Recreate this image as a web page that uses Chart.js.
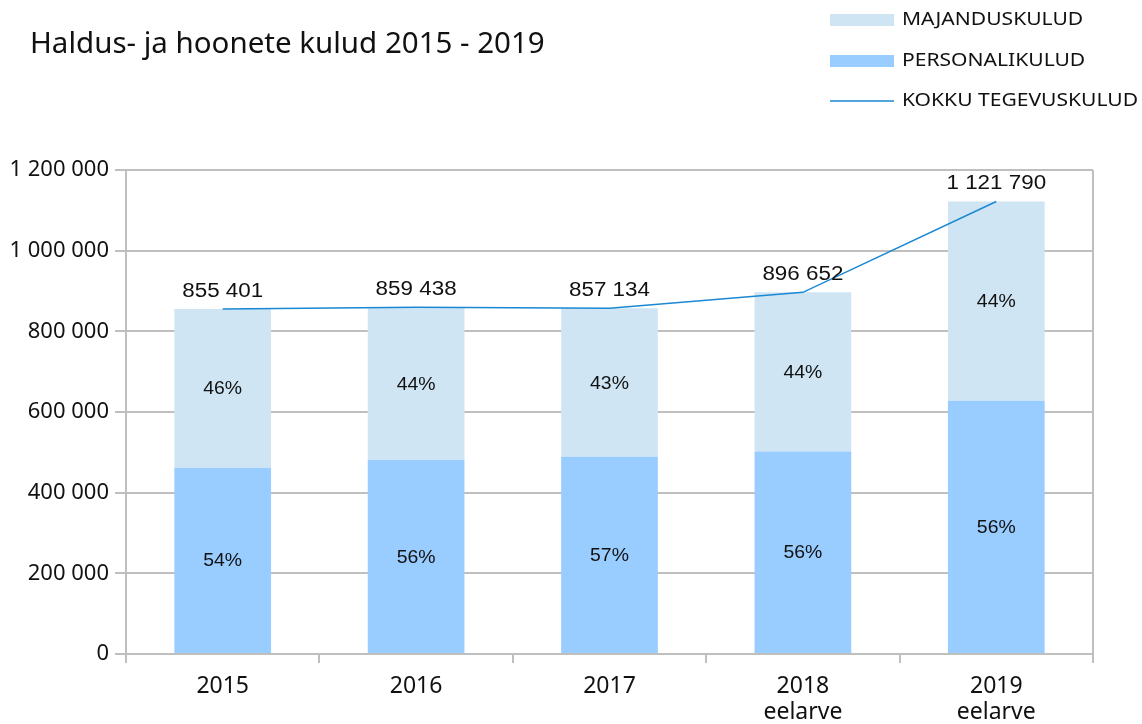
<!DOCTYPE html>
<html>
<head>
<meta charset="utf-8">
<script src="https://cdn.jsdelivr.net/npm/chart.js@4.4.1/dist/chart.umd.min.js"></script>
<style>
  html, body { margin: 0; padding: 0; background: #fff; }
  #wrap { width: 1142px; height: 724px; }
</style>
</head>
<body>
<div id="wrap"><canvas id="chart" width="1142" height="724"></canvas></div>
<script>
// Chart data
const years = ["2015", "2016", "2017", ["2018", "eelarve"], ["2019", "eelarve"]];
const personalCosts = [462000, 481000, 489000, 502000, 628000];
const economicCosts = [393401, 378438, 368134, 394652, 493790];
const totalCosts = [855401, 859438, 857134, 896652, 1121790];
const personalShare = ["54%", "56%", "57%", "56%", "56%"];
const economicShare = ["46%", "44%", "43%", "44%", "44%"];

const titleText = "Haldus- ja hoonete kulud 2015 - 2019";

// Colours
const lightBlue = "#cfe5f4";
const midBlue = "#99ccff";
const lineBlue = "#1a88d2";
const gridGray = "#bfbfbf";

const uiFont = "'Noto Sans', 'Open Sans', sans-serif";
const labelFont = "'Liberation Sans', Arial, sans-serif";

function spaced(v) {
  return String(Math.round(v)).replace(/\B(?=(\d{3})+(?!\d))/g, " ");
}

// text drawn a little wider than the font, like the source image
function wideText(ctx, text, x, y, sx) {
  ctx.save();
  ctx.translate(x, y);
  ctx.scale(sx, 1);
  ctx.fillText(text, 0, 0);
  ctx.restore();
}

// Title, legend, plot frame and value labels
const decorPlugin = {
  id: "decor",
  afterDraw(chart) {
    const ctx = chart.ctx;
    const area = chart.chartArea;
    ctx.save();

    // right border of the plot frame
    ctx.strokeStyle = gridGray;
    ctx.lineWidth = 2;
    ctx.beginPath();
    ctx.moveTo(area.right, area.top);
    ctx.lineTo(area.right, area.bottom);
    ctx.stroke();

    // title
    ctx.fillStyle = "#111";
    ctx.font = "29.5px " + uiFont;
    ctx.textAlign = "left";
    ctx.textBaseline = "middle";
    ctx.fillText(titleText, 30, 45);

    // legend (top to bottom: economic, personal, total)
    const items = [
      { ds: 1, y: 20 },
      { ds: 0, y: 61 },
      { ds: 2, y: 101 },
    ];
    ctx.font = "18px " + uiFont;
    items.forEach((it) => {
      const ds = chart.data.datasets[it.ds];
      if (ds.type === "line") {
        ctx.strokeStyle = ds.borderColor;
        ctx.lineWidth = 1.5;
        ctx.beginPath();
        ctx.moveTo(830, it.y);
        ctx.lineTo(894, it.y);
        ctx.stroke();
      } else {
        ctx.fillStyle = ds.backgroundColor;
        ctx.fillRect(830, it.y - 6, 64, 12);
      }
      ctx.fillStyle = "#111";
      wideText(ctx, ds.label, 902, it.y, 1.17);
    });

    // percentage labels in bars
    ctx.textAlign = "center";
    ctx.font = "18.5px " + labelFont;
    ctx.fillStyle = "#111";
    [[0, personalShare], [1, economicShare]].forEach(([idx, texts]) => {
      const meta = chart.getDatasetMeta(idx);
      meta.data.forEach((el, i) => {
        wideText(ctx, texts[i], el.x, (el.y + el.base) / 2 + 1, 1.05);
      });
    });

    // total labels above line
    ctx.font = "20px " + labelFont;
    const lineMeta = chart.getDatasetMeta(2);
    lineMeta.data.forEach((pt, i) => {
      wideText(ctx, spaced(totalCosts[i]), pt.x, pt.y - 18, 1.12);
    });

    ctx.restore();
  },
};

new Chart(document.getElementById("chart"), {
  data: {
    labels: years,
    datasets: [
      {
        type: "bar",
        label: "PERSONALIKULUD",
        data: personalCosts,
        backgroundColor: midBlue,
        stack: "bars",
        order: 2,
        barPercentage: 0.5,
        categoryPercentage: 1,
      },
      {
        type: "bar",
        label: "MAJANDUSKULUD",
        data: economicCosts,
        backgroundColor: lightBlue,
        stack: "bars",
        order: 2,
        barPercentage: 0.5,
        categoryPercentage: 1,
      },
      {
        type: "line",
        label: "KOKKU TEGEVUSKULUD",
        data: totalCosts,
        borderColor: lineBlue,
        borderWidth: 1.5,
        pointRadius: 0,
        stack: "total",
        order: 1,
        tension: 0,
      },
    ],
  },
  options: {
    responsive: false,
    animation: false,
    devicePixelRatio: 1,
    layout: { padding: { top: 170, right: 49, left: 0, bottom: 0 } },
    plugins: {
      legend: { display: false },
      tooltip: { enabled: false },
      title: { display: false },
    },
    scales: {
      x: {
        stacked: true,
        grid: {
          offset: true,
          drawOnChartArea: false,
          drawTicks: true,
          tickLength: 9,
          color: gridGray,
          lineWidth: 2,
        },
        border: { color: gridGray, width: 2 },
        ticks: {
          color: "#111",
          font: { family: uiFont, size: 23, lineHeight: 1.12 },
          padding: 11,
          maxRotation: 0,
        },
        afterFit(scale) { scale.height = 70; },
      },
      y: {
        stacked: true,
        min: 0,
        max: 1200000,
        grid: {
          color: gridGray,
          lineWidth: 2,
          tickLength: 11,
        },
        border: { color: gridGray, width: 2 },
        ticks: {
          stepSize: 200000,
          color: "#111",
          padding: 6,
          font: { family: uiFont, size: 22 },
          callback: (v) => spaced(v),
        },
        afterFit(scale) { scale.width = 126; },
      },
    },
  },
  plugins: [decorPlugin],
});
</script>
</body>
</html>
